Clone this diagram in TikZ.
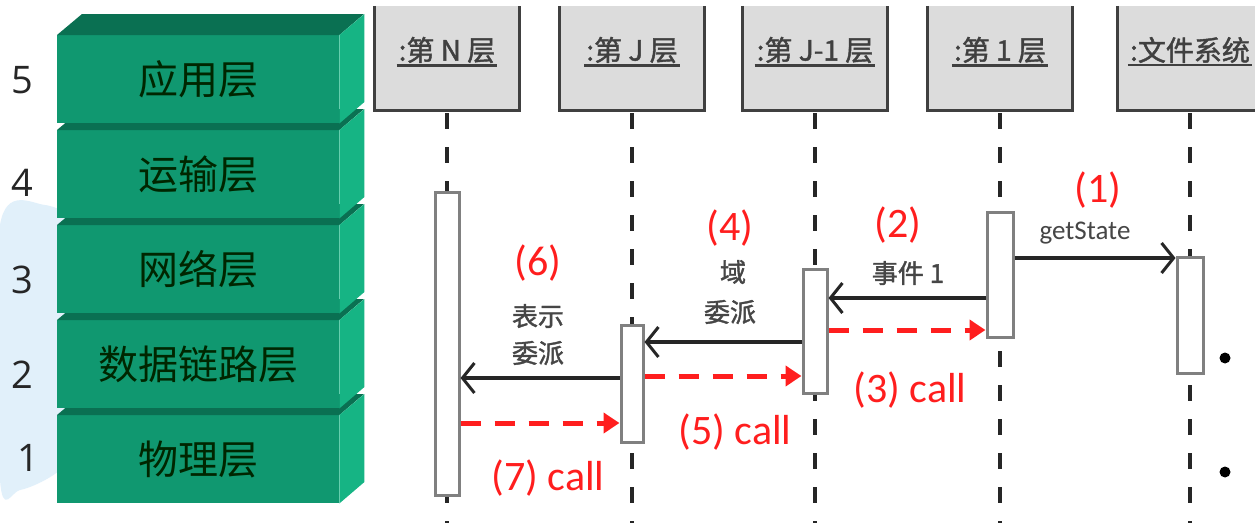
\documentclass[tikz,border=0pt]{standalone}
\usepackage{fontspec}
\setmainfont{Carlito}
\newfontfamily\cjk{Noto Sans CJK SC}
\newfontfamily\cjkb[FakeBold=1.5]{Noto Sans CJK SC}
\newfontfamily\digitfont{Open Sans}
\usetikzlibrary{arrows.meta,calc}

\definecolor{frontG}{RGB}{16,152,112}
\definecolor{topG}{RGB}{10,112,82}
\definecolor{sideG}{RGB}{22,180,132}
\definecolor{hdrgray}{RGB}{220,220,220}
\definecolor{redc}{RGB}{255,30,30}
\definecolor{lblgray}{RGB}{70,70,70}
\definecolor{blot}{RGB}{205,230,248}

\tikzset{
 layerbox/.style={rectangle, fill=frontG, minimum width=282pt, minimum height=88pt, inner sep=0pt, font=\cjk\fontsize{40}{40}\selectfont, text=black!85!green},
 layernum/.style={font=\digitfont\fontsize{38}{38}\selectfont, text=black!85},
 hdrbox/.style={rectangle, fill=hdrgray, minimum width=145pt, minimum height=104pt, inner sep=0pt},
 hdrborder/.style={draw=black!75, line width=3pt},
 hdrtext/.style={font=\cjkb\fontsize{28}{28}\selectfont, text=black!75, inner sep=2pt},
 lifeline/.style={draw=black!85, line width=4pt, dash pattern=on 16pt off 18pt},
 actbox/.style={rectangle, draw=black!50, fill=white, line width=3pt, minimum width=22pt, inner sep=0pt},
 msg/.style={draw=black!85, line width=4.5pt, -{Straight Barb[length=12pt,width=30pt,line width=3pt]}},
 ret/.style={draw=redc, line width=5pt, dash pattern=on 20pt off 14pt, -{Triangle[length=16pt,width=20pt]}},
 rednum/.style={text=redc, font=\fontsize{42}{42}\selectfont, inner sep=0pt},
 grlabel/.style={text=lblgray, font=\cjkb\fontsize{26}{26}\selectfont, inner sep=0pt},
 bullet/.style={circle, fill=black, minimum size=11pt, inner sep=0pt},
}

\begin{document}
\begin{tikzpicture}[x=1pt,y=-1pt]
\useasboundingbox (0,0) rectangle (1255,522);
\clip (0,0) rectangle (1255,522);
\fill[white] (0,0) rectangle (1255,522);

% light blue blotch
\fill[blot, opacity=0.6] plot[smooth cycle] coordinates {(0,225) (45,205) (95,235) (100,300) (85,365) (100,420) (60,470) (20,490) (0,480)};

% layer stack
\foreach \i/\txt/\n in {4/物理层/1, 3/数据链路层/2, 2/网络层/3, 1/运输层/4, 0/应用层/5}{
  \pgfmathsetmacro\yt{35+95*\i}
  \node[layerbox, anchor=north west] (L\n) at (57,\yt) {\txt};
  \fill[topG] (L\n.north west) -- ++(25,-21) -- ++(282,0) -- (L\n.north east) -- cycle;
  \fill[sideG] (L\n.north east) -- ++(25,-21) -- ++(0,88) -- (L\n.south east) -- cycle;
}
\node[layernum] (n5) at (22,80) {5};
\node[layernum] (n4) at (22,183) {4};
\node[layernum] (n3) at (22,280) {3};
\node[layernum] (n2) at (22,375) {2};
\node[layernum] (n1) at (28,458) {1};

% headers
\coordinate (bottom) at (0,540);
\foreach \nm/\x/\txt in {N/447/{:第 N 层}, J/632/{:第 J 层}, Ja/815/{:第 J-1 层}, Lo/1000/{:第 1 层}, F/1190/{:文件系统}}{
  \node[hdrbox] (h\nm) at (\x,58) {};
  \draw[hdrborder] (h\nm.north west) -- (h\nm.south west) -- (h\nm.south east) -- (h\nm.north east);
  \node[hdrtext] (t\nm) at (\x,50) {\txt};
  \draw[draw=black!75, line width=2.5pt] (t\nm.south west) -- (t\nm.south east);
  \draw[lifeline] (h\nm.south) ++(0,3) -- (h\nm.south |- bottom);
}

% activations
\node[actbox, minimum height=303pt, minimum width=24pt] (aN) at (447,343.5) {};
\node[actbox, minimum height=117pt] (aJ) at (632,383.5) {};
\node[actbox, minimum height=124pt, minimum width=24pt] (aJa) at (815,331) {};
\node[actbox, minimum height=125pt, minimum width=26pt] (aLo) at (1000,274.5) {};
\node[actbox, minimum height=116pt, minimum width=26pt] (aF) at (1190,315) {};

% messages
\draw[msg] (aLo.east |- 0,258) -- (aF.west |- 0,258);
\draw[msg] (aLo.west |- 0,298) -- (aJa.east |- 0,298);
\draw[ret] (aJa.east |- 0,330) -- (aLo.west |- 0,330);
\draw[msg] (aJa.west |- 0,342) -- (aJ.east |- 0,342);
\draw[ret] (aJ.east |- 0,376) -- (aJa.west |- 0,376);
\draw[msg] (aJ.west |- 0,378) -- (aN.east |- 0,378);
\draw[ret] (aN.east |- 0,423) -- (aJ.west |- 0,423);

% labels
\node[rednum] (r1) at (1098,190) {(1)};
\node[text=lblgray, font=\fontsize{27}{27}\selectfont, inner sep=0pt] (g1) at (1085,233) {getState};
\node[rednum] (r2) at (898,225) {(2)};
\node[grlabel] (g2) at (908,273) {事件 1};
\node[rednum] (r3) at (910,390) {(3) call};
\node[rednum] (r4) at (730,228) {(4)};
\node[grlabel] (g4a) at (733,272) {域};
\node[grlabel] (g4b) at (730,312) {委派};
\node[rednum] (r5) at (735,432) {(5) call};
\node[rednum] (r6) at (538,263) {(6)};
\node[grlabel] (g6a) at (538,316) {表示};
\node[grlabel] (g6b) at (538,353) {委派};
\node[rednum] (r7) at (548,478) {(7) call};

% bullets
\node[bullet] (b1) at (1225,358) {};
\node[bullet] (b2) at (1225,472) {};
\end{tikzpicture}
\end{document}
